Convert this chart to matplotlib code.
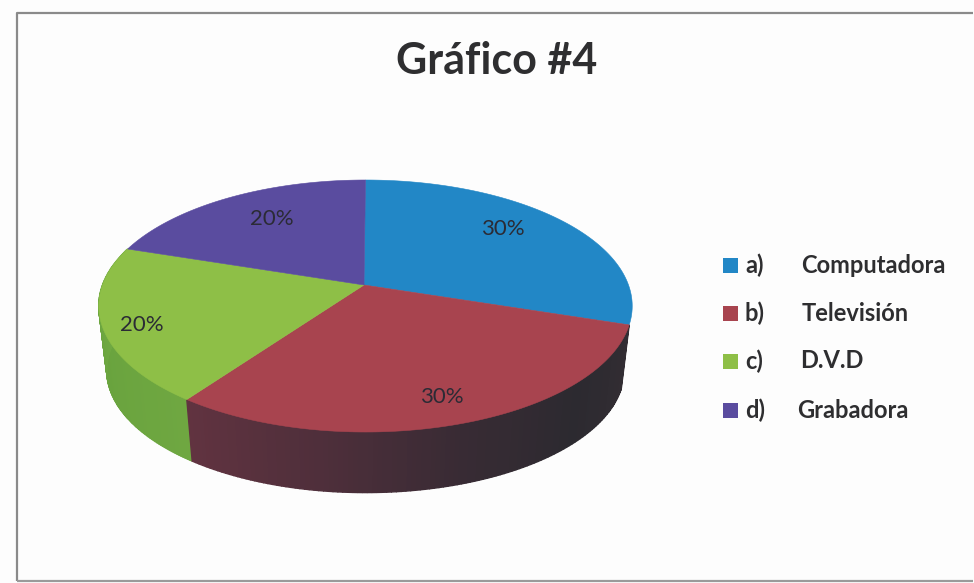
import matplotlib.pyplot as plt
import numpy as np
from matplotlib.colors import LinearSegmentedColormap
from matplotlib.patches import Rectangle

TITLE = "Gráfico #4"
MARKERS = ["a)", "b)", "c)", "d)"]
CATEGORIES = ["Computadora", "Televisión", "D.V.D", "Grabadora"]
VALUES = [30, 30, 20, 20]

COLORS = ["#2287c6", "#a8444f", "#8ebf47", "#5a4c9f"]
SIDE_STOPS = [
    None,
    ["#332d33", "#2c2a30", "#382b34", "#4f2f3b", "#613340"],
    ["#6fa741", "#69a33e", "#74ad45"],
    None,
]
LABEL_POS = [(503, 229), (442, 397), (142, 325), (272, 219)]
LEGEND_Y = [265.5, 313.5, 361, 410]
NAME_X = [801, 802, 800, 797]
TEXT_COLOR = "#2e2e30"

# pie geometry in picture pixels, with a projective tilt
CX, CY = 365.5, 285
RX, RY = 263, 122.5
TILT = 1 / 6
DROP = 65
BOTTOM_SCALE = 0.97


def rim(theta, bottom=False):
    u, v = np.cos(theta), np.sin(theta)
    scale = BOTTOM_SCALE if bottom else 1.0
    shift = DROP if bottom else 0
    denom = 1 + TILT * v
    return CX + scale * RX * u / denom, CY + shift - scale * RY * v / denom


def wedge_edges():
    fractions = np.cumsum([0] + VALUES) / sum(VALUES)
    return np.pi / 2 - 2 * np.pi * fractions


fig = plt.figure(figsize=(9.74, 5.83), dpi=100, facecolor="#fdfdfd")
ax = fig.add_axes([0, 0, 1, 1])
ax.set_xlim(0, 974)
ax.set_ylim(583, 0)
ax.axis("off")

plt.rcParams["font.family"] = ["Lato", "DejaVu Sans"]

# chart frame
ax.plot([17, 17, 973], [581, 12.5, 12.5], color="#8a8a8a", lw=1.6, solid_capstyle="butt")
ax.plot([17, 973], [581, 581], color="#9a9a9a", lw=1.6, solid_capstyle="butt")

# outer wall, only the part facing the viewer
edges = wedge_edges()
for i, stops in enumerate(SIDE_STOPS):
    if stops is None:
        continue
    cmap = LinearSegmentedColormap.from_list("side", stops)
    thetas = np.linspace(edges[i], edges[i + 1], 120)
    for k in range(len(thetas) - 1):
        pair = thetas[k : k + 2]
        x_top, y_top = rim(pair)
        x_bot, y_bot = rim(pair, bottom=True)
        ax.fill(
            np.r_[x_top, x_bot[::-1]],
            np.r_[y_top, y_bot[::-1]],
            color=cmap(k / (len(thetas) - 2)),
            lw=1.0,
            zorder=2 + k / 1000,
        )

# top face
for i, color in enumerate(COLORS):
    thetas = np.linspace(edges[i], edges[i + 1], 160)
    x, y = rim(thetas)
    ax.fill(np.r_[CX - 1.5, x], np.r_[CY, y], color=color, lw=0.4, zorder=3)

for value, (x, y) in zip(VALUES, LABEL_POS):
    ax.text(x, y, f"{value}%", ha="center", va="center", fontsize=16, color="#2b2b35", zorder=4)

ax.text(496.5, 61, TITLE, ha="center", va="center", fontsize=31, weight="bold", color=TEXT_COLOR)

# legend
for marker, name, color, y, name_x in zip(MARKERS, CATEGORIES, COLORS, LEGEND_Y, NAME_X):
    ax.add_patch(Rectangle((723, y - 7.5), 15, 15, facecolor=color, edgecolor="none"))
    ax.text(745, y, marker, ha="left", va="center", fontsize=17, weight="bold", color=TEXT_COLOR)
    ax.text(name_x, y, name, ha="left", va="center", fontsize=17, weight="bold", color=TEXT_COLOR)

fig.savefig("out.png", dpi=100, facecolor=fig.get_facecolor())
